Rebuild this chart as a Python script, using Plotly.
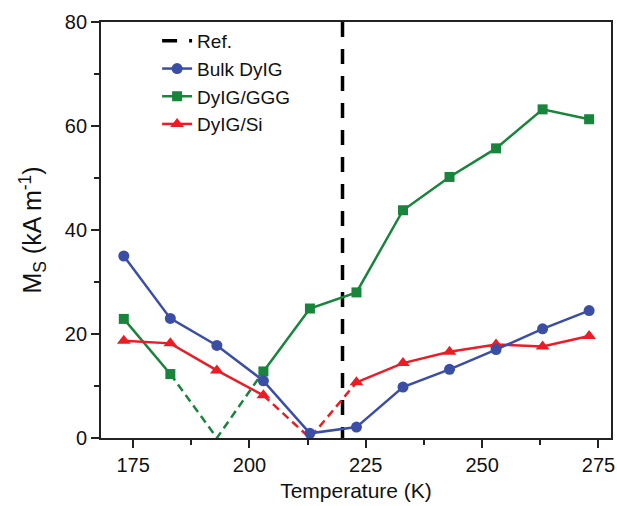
import plotly.graph_objects as go

# Data
temps = [173, 183, 193, 203, 213, 223, 233, 243, 253, 263, 273]
bulk_dyig = [35.0, 23.0, 17.8, 11.0, 0.9, 2.1, 9.8, 13.2, 17.0, 21.0, 24.5]
dyig_ggg = [22.9, 12.3, 0.0, 12.8, 24.9, 28.0, 43.8, 50.2, 55.7, 63.2, 61.3]
dyig_si = [18.7, 18.2, 13.0, 8.2, 0.0, 10.7, 14.4, 16.6, 18.0, 17.6, 19.6]
ref_temp = 220
# indices of the extrapolated (dashed, marker-less) points
ggg_gap = 2
si_gap = 4

x_ticks = [175, 200, 225, 250, 275]
y_ticks = [0, 20, 40, 60, 80]

BLUE = "#3a4ea6"
GREEN = "#18843c"
RED = "#ec1c24"
FONT = "Liberation Sans, Arial, sans-serif"

fig = go.Figure()

def solid_part(vals, gap):
    return [None if i == gap else v for i, v in enumerate(vals)]

def dashed_part(vals, gap):
    return [v if abs(i - gap) <= 1 else None for i, v in enumerate(vals)]

# Reference line
fig.add_trace(go.Scatter(
    x=[ref_temp, ref_temp], y=[80, 0], mode="lines", name="Ref.",
    line=dict(color="black", width=3.5, dash="15px,12px"),
    legendrank=1))

# Dashed extrapolations
fig.add_trace(go.Scatter(
    x=temps, y=dashed_part(dyig_ggg, ggg_gap), mode="lines", showlegend=False,
    line=dict(color=GREEN, width=2.5, dash="8px,5px"), connectgaps=False))
fig.add_trace(go.Scatter(
    x=temps, y=dashed_part(dyig_si, si_gap), mode="lines", showlegend=False,
    line=dict(color=RED, width=2.5, dash="8px,5px"), connectgaps=False))

# Solid series
fig.add_trace(go.Scatter(
    x=temps, y=solid_part(dyig_ggg, ggg_gap), mode="lines+markers", name="DyIG/GGG",
    line=dict(color=GREEN, width=2.5), marker=dict(symbol="square", size=10, color=GREEN),
    connectgaps=False, legendrank=3))
fig.add_trace(go.Scatter(
    x=temps, y=solid_part(dyig_si, si_gap), mode="lines+markers", name="DyIG/Si",
    line=dict(color=RED, width=2.5), marker=dict(symbol="triangle-up", size=12, color=RED),
    connectgaps=False, legendrank=4))
fig.add_trace(go.Scatter(
    x=temps, y=bulk_dyig, mode="lines+markers", name="Bulk DyIG",
    line=dict(color=BLUE, width=2.5), marker=dict(symbol="circle", size=11, color=BLUE),
    legendrank=2))

axis_common = dict(
    showline=True, linecolor="#222", linewidth=1.8, mirror=True,
    ticks="outside", ticklen=8, tickwidth=1.5, tickcolor="#222",
    showgrid=False, zeroline=False,
    tickfont=dict(family=FONT, size=20, color="#111"),
)

fig.update_xaxes(
    range=[168.1, 277.7], tickvals=x_ticks, ticktext=[str(t) for t in x_ticks],
    minor=dict(ticks="outside", ticklen=5, tickwidth=1.5, tickcolor="#222", dtick=12.5, tick0=175),
    title=dict(text="Temperature (K)", font=dict(family=FONT, size=21, color="#111"), standoff=8),
    **axis_common)
fig.update_yaxes(
    range=[0, 80], tickvals=y_ticks, ticktext=[str(t) for t in y_ticks],
    minor=dict(ticks="outside", ticklen=5, tickwidth=1.5, tickcolor="#222", dtick=10, tick0=0),
    title=dict(text="M<sub>S</sub> (kA m<sup>-1</sup>)", font=dict(family=FONT, size=25, color="#111"), standoff=16),
    **axis_common)

fig.update_layout(
    width=617, height=506,
    margin=dict(l=101, r=6, t=22, b=68, autoexpand=False),
    paper_bgcolor="white", plot_bgcolor="white",
    showlegend=True,
    legend=dict(x=0.11, y=1.0, xanchor="left", yanchor="top",
                bgcolor="rgba(0,0,0,0)", borderwidth=0,
                font=dict(family=FONT, size=19, color="#111"),
                tracegroupgap=0, itemwidth=30),
)

fig.write_html("out.html")
